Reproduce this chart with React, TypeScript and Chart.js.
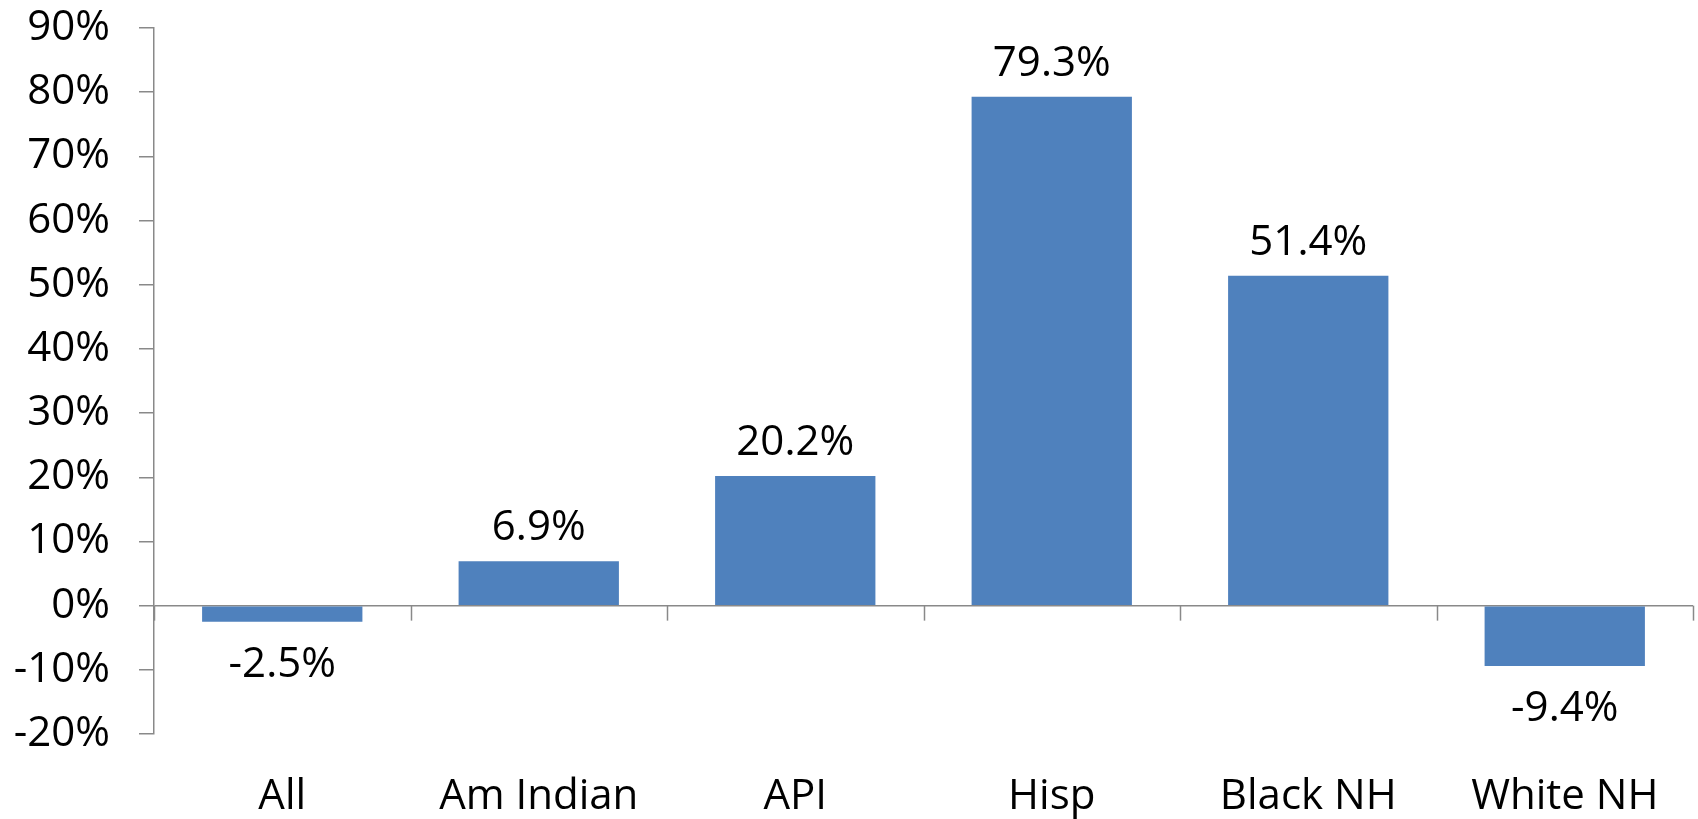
import React, { useEffect, useRef } from "react";
import { Chart, registerables } from "chart.js";

Chart.register(...registerables);

const categories = ["All", "Am Indian", "API", "Hisp", "Black NH", "White NH"];
const values = [-2.5, 6.9, 20.2, 79.3, 51.4, -9.4];
const yMin = -20;
const yMax = 90;
const yStep = 10;

const FONT = "'Open Sans', 'DejaVu Sans', sans-serif";
const FONT_SIZE = 42;
const AXIS_COLOR = "#898989";
const BAR_COLOR = "#4F81BD";

const categoryTicks = {
  id: "categoryTicks",
  afterDraw(chart: any) {
    const xs = chart.scales.x;
    const ys = chart.scales.y;
    const y0 = ys.getPixelForValue(0);
    const ctx = chart.ctx;
    const n = categories.length;
    const bounds: number[] = [xs.left];
    for (let i = 1; i < n; i++) {
      bounds.push((xs.getPixelForValue(i - 1) + xs.getPixelForValue(i)) / 2);
    }
    bounds.push(xs.right);
    ctx.save();
    ctx.strokeStyle = AXIS_COLOR;
    ctx.lineWidth = 1.5;
    for (const b of bounds) {
      const xx = Math.round(b) + 0.5;
      ctx.beginPath();
      ctx.moveTo(xx, y0);
      ctx.lineTo(xx, y0 + 15);
      ctx.stroke();
    }
    ctx.restore();
  },
};

const valueLabels = {
  id: "valueLabels",
  afterDatasetsDraw(chart: any) {
    const ctx = chart.ctx;
    const meta = chart.getDatasetMeta(0);
    ctx.save();
    ctx.font = `${FONT_SIZE}px ${FONT}`;
    ctx.fillStyle = "#000000";
    ctx.textAlign = "center";
    meta.data.forEach((el: any, i: number) => {
      const v = values[i];
      const text = v.toFixed(1) + "%";
      if (v >= 0) {
        ctx.textBaseline = "bottom";
        ctx.fillText(text, el.x, el.y - 12);
      } else {
        ctx.textBaseline = "top";
        ctx.fillText(text, el.x, el.y + 22);
      }
    });
    ctx.restore();
  },
};

export default function App() {
  const ref = useRef<HTMLCanvasElement | null>(null);

  useEffect(() => {
    document.body.style.margin = "0";
    const canvas = ref.current;
    if (!canvas) return;
    const chart = new Chart(canvas, {
      type: "bar",
      data: {
        labels: categories,
        datasets: [
          {
            data: values,
            backgroundColor: BAR_COLOR,
            borderWidth: 0,
            barPercentage: 0.625,
            categoryPercentage: 1,
          },
        ],
      },
      options: {
        responsive: false,
        animation: false,
        devicePixelRatio: 1,
        layout: { padding: { top: 28, right: 5, left: 0, bottom: 0 } },
        plugins: {
          legend: { display: false },
          tooltip: { enabled: false },
        },
        scales: {
          x: {
            grid: { display: false, drawTicks: false },
            border: { display: false },
            ticks: {
              color: "#000000",
              font: { family: FONT, size: FONT_SIZE },
              padding: 38,
              maxRotation: 0,
              autoSkip: false,
            },
            afterFit(scale: any) {
              scale.height = 85;
              scale.paddingLeft = 0;
              scale.paddingRight = 0;
            },
          },
          y: {
            min: yMin,
            max: yMax,
            grid: {
              color: (c: any) => (c.tick && c.tick.value === 0 ? AXIS_COLOR : "rgba(0,0,0,0)"),
              lineWidth: 1.5,
              tickColor: AXIS_COLOR,
              tickLength: 15,
              drawTicks: true,
            },
            border: { display: true, color: AXIS_COLOR, width: 1.5 },
            ticks: {
              stepSize: yStep,
              color: "#000000",
              font: { family: FONT, size: FONT_SIZE },
              padding: 29,
              callback: (v: any) => v + "%",
            },
            afterFit(scale: any) {
              scale.width = 154;
              scale.paddingTop = 0;
              scale.paddingBottom = 0;
            },
          },
        },
      },
      plugins: [categoryTicks, valueLabels],
    });
    return () => chart.destroy();
  }, []);

  return (
    <canvas
      ref={ref}
      width={1698}
      height={819}
      style={{ display: "block", width: 1698, height: 819 }}
    />
  );
}
